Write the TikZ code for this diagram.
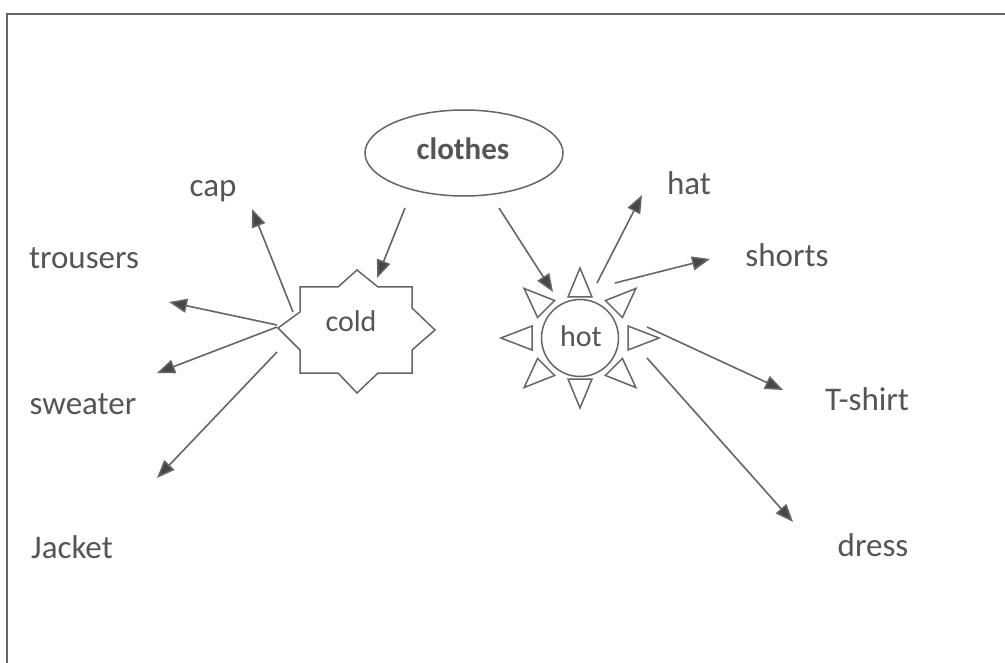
\documentclass[tikz,border=0pt]{standalone}
\usepackage{fontspec}
\setmainfont{Carlito}
\usetikzlibrary{arrows.meta,shapes.geometric,calc}
\definecolor{ink}{HTML}{555555}
\definecolor{linec}{HTML}{656565}
\definecolor{headc}{HTML}{454545}
\begin{document}
\begin{tikzpicture}[x=1pt,y=-1pt,
  lbl/.style={text=ink,font=\fontsize{33}{38}\selectfont,anchor=base,inner sep=0pt},
  inner/.style={text=ink,font=\fontsize{30}{36}\selectfont,anchor=base,inner sep=0pt},
  arr/.style={draw=linec,line width=1.6pt,-{Triangle[length=18pt,width=14pt,fill=headc]}},
  shapeline/.style={draw=linec,line width=1.5pt,line join=miter}]
\useasboundingbox (0,0) rectangle (1005,663);
\fill[white] (0,0) rectangle (1005,663);
% frame
\draw[draw=linec,line width=1.8pt] (7,663) -- (7,14) -- (1005,14);

% clothes ellipse
\node[ellipse,shapeline,minimum width=198pt,minimum height=86pt,inner sep=0pt] (clothesE) at (464,153) {};
\node[text=ink,font=\bfseries\fontsize{31}{36}\selectfont,anchor=base,inner sep=0pt] (clothes) at (463,160) {clothes};

% cold star
\draw[shapeline] (357,270) -- (378,287) -- (412,287) -- (412,308) -- (435,330) -- (412,350) -- (412,373) -- (378,373) -- (357,393) -- (338,373) -- (300,373) -- (300,350) -- (278,328) -- (300,312) -- (300,287) -- (338,287) -- cycle;
\node[inner] (cold) at (351,332) {cold};

% hot sun
\node[circle,shapeline,minimum width=77pt,minimum height=77pt,inner sep=0pt] (sun) at (580,338) {};
\node[inner] (hot) at (581,346) {hot};
\foreach \a in {0,45,...,315} {
  \draw[shapeline] ($(sun)+({79*cos(\a)},{70*sin(\a)})$)
    -- ($(sun)+({48*cos(\a)-12*sin(\a)},{41*sin(\a)+12*cos(\a)})$)
    -- ($(sun)+({48*cos(\a)+12*sin(\a)},{41*sin(\a)-12*cos(\a)})$) -- cycle;
}

% labels
\node[lbl] (cap) at (213,197) {cap};
\node[lbl] (trousers) at (84,269) {trousers};
\node[lbl] (sweater) at (83,414) {sweater};
\node[lbl] (jacket) at (72,558) {Jacket};
\node[lbl] (hat) at (689,195) {hat};
\node[lbl] (shorts) at (787,267) {shorts};
\node[lbl] (tshirt) at (867,410) {T-shirt};
\node[lbl] (dress) at (873,556) {dress};

% connector end points
\coordinate (cl-c) at (405,208); \coordinate (c-in) at (377,278);
\coordinate (cl-h) at (499,208); \coordinate (h-in) at (553,292);
\coordinate (c-cap) at (293,312); \coordinate (cap-in) at (252,209);
\coordinate (c-tro) at (277,325); \coordinate (tro-in) at (169,302);
\coordinate (c-swe) at (277,327); \coordinate (swe-in) at (157,373);
\coordinate (c-jac) at (277,352); \coordinate (jac-in) at (157,478);
\coordinate (h-hat) at (597,283); \coordinate (hat-in) at (642,195);
\coordinate (h-sho) at (615,283); \coordinate (sho-in) at (710,259);
\coordinate (h-tsh) at (647,327); \coordinate (tsh-in) at (783,390);
\coordinate (h-dre) at (647,358); \coordinate (dre-in) at (793,522);

\draw[arr] (cl-c) -- (c-in);
\draw[arr] (cl-h) -- (h-in);
\draw[arr] (c-cap) -- (cap-in);
\draw[arr] (c-tro) -- (tro-in);
\draw[arr] (c-swe) -- (swe-in);
\draw[arr] (c-jac) -- (jac-in);
\draw[arr] (h-hat) -- (hat-in);
\draw[arr] (h-sho) -- (sho-in);
\draw[arr] (h-tsh) -- (tsh-in);
\draw[arr] (h-dre) -- (dre-in);
\end{tikzpicture}
\end{document}
